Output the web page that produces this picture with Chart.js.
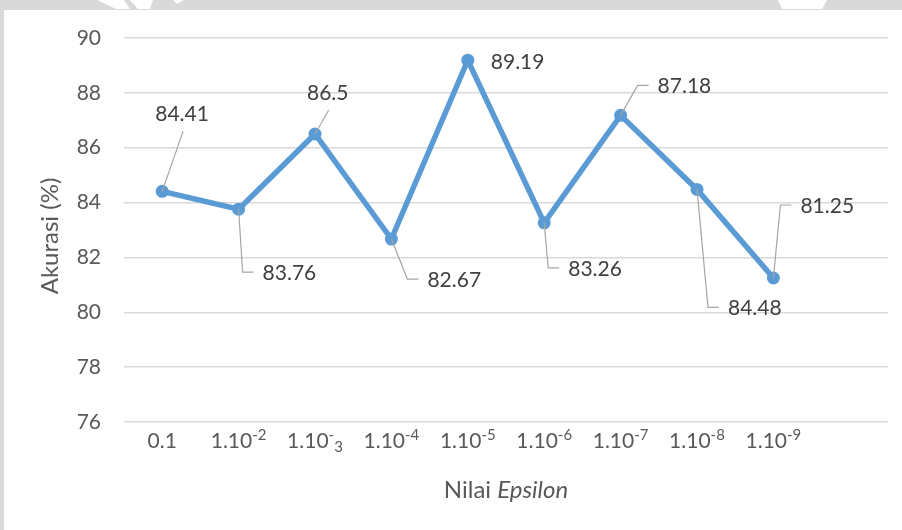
<!DOCTYPE html>
<html>
<head>
<meta charset="utf-8">
<script src="https://cdn.jsdelivr.net/npm/chart.js@4.4.1/dist/chart.umd.min.js"></script>
<style>
  html, body { margin: 0; padding: 0; background: #ffffff; }
  #wrap { position: relative; width: 902px; height: 530px; }
</style>
</head>
<body>
<div id="wrap"><canvas id="chart" width="902" height="530"></canvas></div>
<script>
// Epsilon values on the category axis (the last slot is left empty)
const categories = ['0.1', '1.10⁻²', '1.10⁻₃', '1.10⁻⁴', '1.10⁻⁵', '1.10⁻⁶', '1.10⁻⁷', '1.10⁻⁸', '1.10⁻⁹', ''];
// Accuracy (%) per epsilon
const accuracy = [84.41, 83.76, 86.5, 82.67, 89.19, 83.26, 87.18, 84.48, 81.25, null];
// Value axis range
const yMin = 76;
const yMax = 90;
const yStep = 2;

const yTitle = 'Akurasi (%)';
const xTitleNormal = 'Nilai ';
const xTitleItalic = 'Epsilon';

// Where each value label sits relative to its point (left edge / middle of text)
// and what kind of leader line connects them.
const labelPlacement = [
  { dx: -7, dy: -78, leader: 'up' },
  { dx: 24, dy: 63, leader: 'elbow' },
  { dx: -8, dy: -42, leader: 'up' },
  { dx: 36, dy: 40, leader: 'elbow' },
  { dx: 23, dy: 1, leader: 'none' },
  { dx: 24, dy: 45, leader: 'elbow' },
  { dx: 37, dy: -30, leader: 'elbow' },
  { dx: 31, dy: 118, leader: 'elbow' },
  { dx: 27, dy: -73, leader: 'elbow' }
];

const FONT = 'Lato, "Open Sans", "DejaVu Sans", sans-serif';
const NUM_SIZE = 21;
const TITLE_SIZE = 24;
const TEXT = '#595959';
const LABEL = '#404040';
const LINE = '#5b9bd5';

const SUP = { '⁻': '-', '⁰': '0', '¹': '1', '²': '2', '³': '3', '⁴': '4', '⁵': '5', '⁶': '6', '⁷': '7', '⁸': '8', '⁹': '9' };
const SUB = { '₋': '-', '₀': '0', '₁': '1', '₂': '2', '₃': '3', '₄': '4', '₅': '5', '₆': '6', '₇': '7', '₈': '8', '₉': '9' };

// Split a label into runs of normal / raised / lowered characters
function runsOf(text) {
  const runs = [];
  for (const ch of text) {
    let kind = 'n', c = ch;
    if (SUP[ch] !== undefined) { kind = 'sup'; c = SUP[ch]; }
    else if (SUB[ch] !== undefined) { kind = 'sub'; c = SUB[ch]; }
    const last = runs[runs.length - 1];
    if (last && last.kind === kind) last.s += c; else runs.push({ kind, s: c });
  }
  return runs;
}

function drawRich(ctx, text, cx, baseline, size) {
  const small = Math.round(size * 0.7);
  const runs = runsOf(text);
  let total = 0;
  runs.forEach(r => {
    ctx.font = (r.kind === 'n' ? size : small) + 'px ' + FONT;
    r.w = ctx.measureText(r.s).width;
    total += r.w;
  });
  let x = cx - total / 2;
  ctx.textAlign = 'left';
  ctx.textBaseline = 'alphabetic';
  runs.forEach(r => {
    ctx.font = (r.kind === 'n' ? size : small) + 'px ' + FONT;
    let y = baseline;
    if (r.kind === 'sup') y = baseline - size * 0.38;
    if (r.kind === 'sub') y = baseline + size * 0.2;
    ctx.fillText(r.s, x, y);
    x += r.w;
  });
}

const framePlugin = {
  id: 'frame',
  beforeDraw(chart) {
    const ctx = chart.ctx;
    ctx.save();
    ctx.fillStyle = '#ffffff';
    ctx.fillRect(0, 0, chart.width, chart.height);
    ctx.fillStyle = '#d9d9d9';
    ctx.fillRect(0, 0, chart.width, 10);
    ctx.fillRect(0, 0, 4, chart.height);
    // pale marks in the top band
    ctx.fillStyle = '#ffffff';
    ctx.beginPath();
    ctx.moveTo(97, 0); ctx.lineTo(124, 0); ctx.lineTo(130, 9); ctx.lineTo(116, 9); ctx.closePath(); ctx.fill();
    ctx.beginPath();
    ctx.moveTo(130, 0); ctx.lineTo(153, 0); ctx.lineTo(150, 9); ctx.lineTo(138, 9); ctx.closePath(); ctx.fill();
    ctx.beginPath();
    ctx.moveTo(173, 0); ctx.lineTo(184, 0); ctx.lineTo(177, 4); ctx.closePath(); ctx.fill();
    ctx.beginPath();
    ctx.moveTo(778, 0); ctx.lineTo(827, 0); ctx.lineTo(822, 9); ctx.lineTo(782, 9); ctx.closePath(); ctx.fill();
    ctx.restore();
  }
};

const annotatePlugin = {
  id: 'annotate',
  afterDraw(chart) {
    const ctx = chart.ctx;
    const area = chart.chartArea;
    const xs = chart.scales.x;
    ctx.save();

    // category labels
    ctx.fillStyle = TEXT;
    categories.forEach((c, i) => {
      if (!c) return;
      drawRich(ctx, c, xs.getPixelForValue(i), 448, NUM_SIZE);
    });

    // x axis title with italic part
    ctx.textBaseline = 'alphabetic';
    ctx.textAlign = 'left';
    ctx.font = TITLE_SIZE + 'px ' + FONT;
    const w1 = ctx.measureText(xTitleNormal).width;
    ctx.font = 'italic ' + TITLE_SIZE + 'px ' + FONT;
    const w2 = ctx.measureText(xTitleItalic).width;
    const cx = (area.left + area.right) / 2;
    const x0 = cx - (w1 + w2) / 2;
    ctx.font = TITLE_SIZE + 'px ' + FONT;
    ctx.fillText(xTitleNormal, x0, 498);
    ctx.font = 'italic ' + TITLE_SIZE + 'px ' + FONT;
    ctx.fillText(xTitleItalic, x0 + w1, 498);

    // y axis title
    ctx.save();
    ctx.translate(50, (area.top + area.bottom) / 2 + 6);
    ctx.rotate(-Math.PI / 2);
    ctx.textAlign = 'center';
    ctx.textBaseline = 'middle';
    ctx.font = TITLE_SIZE + 'px ' + FONT;
    ctx.fillText(yTitle, 0, 0);
    ctx.restore();
    ctx.restore();
  },
  afterDatasetsDraw(chart) {
    const ctx = chart.ctx;
    const meta = chart.getDatasetMeta(0);
    ctx.save();
    ctx.font = NUM_SIZE + 'px ' + FONT;
    meta.data.forEach((pt, i) => {
      const v = accuracy[i];
      if (v === null || v === undefined) return;
      const p = labelPlacement[i];
      const text = String(v);
      const w = ctx.measureText(text).width;
      const lx = pt.x + p.dx;
      const ly = pt.y + p.dy;
      ctx.strokeStyle = '#a6a6a6';
      ctx.lineWidth = 1.2;
      if (p.leader === 'elbow') {
        ctx.beginPath();
        ctx.moveTo(pt.x, pt.y);
        ctx.lineTo(lx - 20, ly);
        ctx.lineTo(lx - 9, ly);
        ctx.stroke();
      } else if (p.leader === 'up') {
        ctx.beginPath();
        ctx.moveTo(pt.x, pt.y);
        ctx.lineTo(lx + w / 2 + 1, ly + 18);
        ctx.stroke();
      }
      ctx.fillStyle = LABEL;
      ctx.textAlign = 'left';
      ctx.textBaseline = 'alphabetic';
      ctx.fillText(text, lx, ly + 8);
    });
    ctx.restore();
  }
};

new Chart(document.getElementById('chart'), {
  type: 'line',
  data: {
    labels: categories,
    datasets: [{
      data: accuracy,
      borderColor: LINE,
      backgroundColor: LINE,
      borderWidth: 5.5,
      pointRadius: 6.5,
      pointHoverRadius: 6.5,
      pointBackgroundColor: LINE,
      pointBorderColor: LINE,
      pointBorderWidth: 0,
      tension: 0,
      spanGaps: false
    }]
  },
  options: {
    responsive: false,
    animation: false,
    events: [],
    layout: { padding: { top: 38, right: 14, bottom: 0, left: 0 } },
    plugins: {
      legend: { display: false },
      tooltip: { enabled: false },
      title: { display: false }
    },
    scales: {
      x: {
        type: 'category',
        offset: true,
        grid: { display: false, drawTicks: false },
        border: { display: false },
        ticks: { display: false },
        afterFit(scale) { scale.height = 108; }
      },
      y: {
        min: yMin,
        max: yMax,
        ticks: {
          stepSize: yStep,
          color: TEXT,
          padding: 23,
          font: { family: FONT, size: NUM_SIZE }
        },
        grid: { color: '#d9d9d9', lineWidth: 1.5, drawTicks: false },
        border: { display: false },
        afterFit(scale) { scale.width = 124; }
      }
    }
  },
  plugins: [framePlugin, annotatePlugin]
});
</script>
</body>
</html>
